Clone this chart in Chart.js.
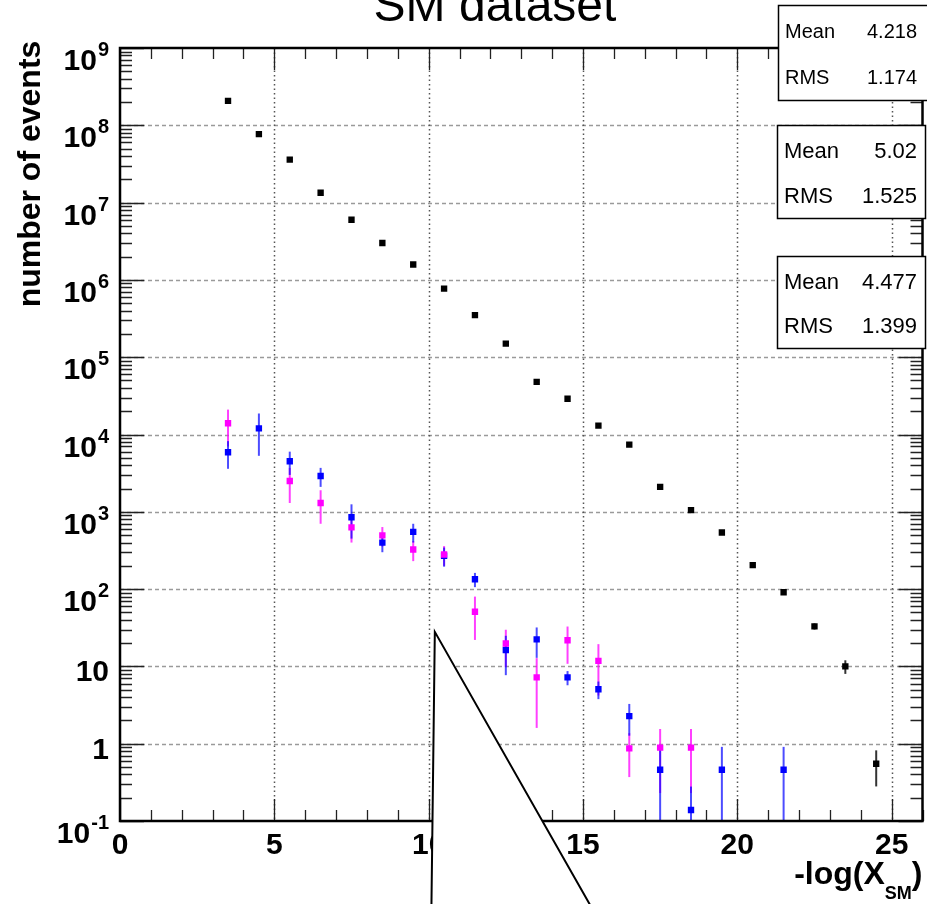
<!DOCTYPE html>
<html>
<head>
<meta charset="utf-8">
<script src="https://cdn.jsdelivr.net/npm/chart.js@4.4.0/dist/chart.umd.min.js"></script>
<style>
html, body { margin: 0; padding: 0; background: #fff; }
</style>
</head>
<body>
<canvas id="sm-chart" width="927" height="904"></canvas>
<script>
// bin centres of -log(X_SM)
const bins = [3.5, 4.5, 5.5, 6.5, 7.5, 8.5, 9.5, 10.5, 11.5, 12.5, 13.5,
  14.5, 15.5, 16.5, 17.5, 18.5, 19.5, 20.5, 21.5, 22.5, 23.5, 24.5];

// black series (full SM sample)
const smVals = [2.07e8, 7.7e7, 3.6e7, 1.34e7, 6e6, 3e6, 1.58e6, 7.7e5, 3.5e5, 1.5e5, 4.8e4,
  2.9e4, 1.3e4, 7.4e3, 2.1e3, 1.05e3, 540, 204, 91, 33, 10, 0.55];
const smErrs = [0, 0, 0, 0, 0, 0, 0, 0, 0, 0, 0,
  0, 0, 0, 0, 0, 0, 0, 5, 3, 2, 0.27];

// magenta series
const magVals = [1.4e4, null, 2.5e3, 1.3e3, 630, 495, 325, 280, 51, 19.8, 7.2,
  21.8, 11.8, 0.87, 0.89, 0.89, null, null, null, null, null, null];
const magErrs = [7e3, null, 1.2e3, 600, 230, 140, 95, 80, 29, 10, 5.6,
  11, 7.6, 0.5, 0.66, 0.66, null, null, null, null, null, null];

// blue series
const blueVals = [5.9e3, 1.2e4, 4.5e3, 2.9e3, 850, 400, 550, 270, 134, 16.3, 22.4,
  7.2, 5.07, 2.27, 0.46, 0.139, 0.46, null, 0.46, null, null, null];
const blueErrs = [2.3e3, 6.7e3, 1.5e3, 800, 400, 100, 150, 75, 28, 8.6, 9.5,
  1.5, 1.3, 1.0, 0.45, 0.14, 0.45, null, 0.45, null, null, null];

// axis ranges and labels
const xMin = 0, xMax = 26;
const xLabels = [0, 5, 10, 15, 20, 25];
const yExpMin = -1, yExpMax = 9;

// stat boxes
const statMeans = ['4.218', '5.02', '4.477'];
const statRms = ['1.174', '1.525', '1.399'];

const FONT = "'Liberation Sans', Arial, Helvetica, sans-serif";

function toPoints(vals, errs) {
  const pts = [];
  vals.forEach((v, i) => {
    if (v !== null) pts.push({ x: bins[i], y: v, err: errs[i] || 0 });
  });
  return pts;
}

const rootStyle = {
  id: 'rootStyle',
  beforeDatasetsDraw(chart) {
    const { ctx, chartArea: a, scales: { x, y } } = chart;
    ctx.save();
    // horizontal grid at decades
    ctx.strokeStyle = '#9a9a9a';
    ctx.lineWidth = 1.5;
    ctx.setLineDash([4, 3]);
    for (let p = yExpMin + 1; p < yExpMax; p++) {
      const py = Math.round(y.getPixelForValue(Math.pow(10, p))) + 0.5;
      ctx.beginPath();
      ctx.moveTo(a.left, py);
      ctx.lineTo(a.right, py);
      ctx.stroke();
    }
    // vertical grid at labelled x values
    ctx.strokeStyle = '#555';
    ctx.setLineDash([1.5, 3]);
    xLabels.forEach(v => {
      if (v <= xMin || v >= xMax) return;
      const px = Math.round(x.getPixelForValue(v)) + 0.5;
      ctx.beginPath();
      ctx.moveTo(px, a.top);
      ctx.lineTo(px, a.bottom);
      ctx.stroke();
    });
    // error bars
    ctx.setLineDash([]);
    chart.data.datasets.forEach((ds, di) => {
      const meta = chart.getDatasetMeta(di);
      ctx.strokeStyle = ds.errColor;
      ctx.lineWidth = 2;
      ds.data.forEach((pt, i) => {
        if (!pt.err) return;
        const px = meta.data[i].x;
        const lo = Math.max(pt.y - pt.err, y.min);
        const hi = Math.min(pt.y + pt.err, y.max);
        ctx.beginPath();
        ctx.moveTo(px, y.getPixelForValue(lo));
        ctx.lineTo(px, y.getPixelForValue(hi));
        ctx.stroke();
      });
    });
    ctx.restore();
  },
  afterDraw(chart) {
    const { ctx, chartArea: a, scales: { x, y } } = chart;
    ctx.save();
    ctx.setLineDash([]);

    // tick marks, ROOT style (inside the frame, on all four sides)
    ctx.strokeStyle = '#222';
    ctx.lineWidth = 1.3;
    for (let p = yExpMin; p <= yExpMax; p++) {
      for (let m = 1; m <= 9; m++) {
        const v = m * Math.pow(10, p);
        if (p === yExpMax && m > 1) break;
        const py = Math.round(y.getPixelForValue(v)) + 0.5;
        const len = m === 1 ? 24 : 12;
        ctx.beginPath();
        ctx.moveTo(a.left, py); ctx.lineTo(a.left + len, py);
        ctx.moveTo(a.right, py); ctx.lineTo(a.right - len, py);
        ctx.stroke();
      }
    }
    for (let v = xMin; v <= xMax; v++) {
      const px = Math.round(x.getPixelForValue(v)) + 0.5;
      const len = v % 5 === 0 ? 22 : 11;
      ctx.beginPath();
      ctx.moveTo(px, a.bottom); ctx.lineTo(px, a.bottom - len);
      ctx.moveTo(px, a.top); ctx.lineTo(px, a.top + len);
      ctx.stroke();
    }

    // frame
    ctx.strokeStyle = '#000';
    ctx.lineWidth = 2.5;
    ctx.strokeRect(a.left, a.top, a.right - a.left, a.bottom - a.top);

    // y tick labels with superscript exponents
    ctx.fillStyle = '#000';
    ctx.textBaseline = 'alphabetic';
    for (let p = yExpMin; p <= yExpMax; p++) {
      const py = y.getPixelForValue(Math.pow(10, p));
      const rightX = a.left - 11;
      if (p === 0 || p === 1) {
        ctx.font = 'bold 30px ' + FONT;
        ctx.textAlign = 'right';
        ctx.fillText(p === 0 ? '1' : '10', rightX, py + 15);
      } else {
        ctx.font = 'bold 20px ' + FONT;
        const e = String(p);
        const ew = ctx.measureText(e).width;
        ctx.font = 'bold 30px ' + FONT;
        const bw = ctx.measureText('10').width;
        ctx.textAlign = 'left';
        const bx = rightX - ew - bw - 1;
        ctx.fillText('10', bx, py + 22);
        ctx.font = 'bold 20px ' + FONT;
        ctx.fillText(e, bx + bw + 1, py + 8);
      }
    }

    // x tick labels
    ctx.font = 'bold 30px ' + FONT;
    ctx.textAlign = 'center';
    xLabels.forEach(v => {
      ctx.fillText(String(v), x.getPixelForValue(v), a.bottom + 33);
    });

    // x title: -log(X_SM)
    ctx.textAlign = 'left';
    ctx.font = 'bold 32px ' + FONT;
    const t1 = '-log(X', t3 = ')';
    const w1 = ctx.measureText(t1).width, w3 = ctx.measureText(t3).width;
    ctx.font = 'bold 18px ' + FONT;
    const w2 = ctx.measureText('SM').width;
    const endX = a.right;
    const sx = endX - w1 - w2 - w3;
    ctx.font = 'bold 32px ' + FONT;
    ctx.fillText(t1, sx, 884);
    ctx.fillText(t3, sx + w1 + w2, 884);
    ctx.font = 'bold 18px ' + FONT;
    ctx.fillText('SM', sx + w1, 899);

    // y title
    ctx.save();
    ctx.translate(40, 174);
    ctx.rotate(-Math.PI / 2);
    ctx.font = 'bold 32px ' + FONT;
    ctx.textAlign = 'center';
    ctx.fillText('number of events', 0, 0);
    ctx.restore();

    // main title (cut off at the top)
    ctx.font = '48px ' + FONT;
    ctx.textAlign = 'center';
    ctx.fillText('SM dataset', 495, 21);

    // stat boxes
    const boxes = [
      { l: 778, t: 5, b: 100, r: 929, size: 20 },
      { l: 777, t: 125, b: 218, r: 925, size: 22 },
      { l: 777, t: 256, b: 348, r: 925, size: 22 }
    ];
    boxes.forEach((bx, i) => {
      ctx.fillStyle = '#fff';
      ctx.fillRect(bx.l, bx.t, bx.r - bx.l, bx.b - bx.t);
      ctx.strokeStyle = '#000';
      ctx.lineWidth = 1.5;
      ctx.strokeRect(bx.l + 0.5, bx.t + 0.5, bx.r - bx.l, bx.b - bx.t);
      ctx.fillStyle = '#000';
      ctx.font = bx.size + 'px ' + FONT;
      ctx.textBaseline = 'middle';
      const h = bx.b - bx.t;
      ctx.textAlign = 'left';
      ctx.fillText('Mean', bx.l + 7, bx.t + h * 0.29);
      ctx.fillText('RMS', bx.l + 7, bx.t + h * 0.77);
      ctx.textAlign = 'right';
      ctx.fillText(statMeans[i], 917, bx.t + h * 0.29);
      ctx.fillText(statRms[i], 917, bx.t + h * 0.77);
    });
    ctx.textBaseline = 'alphabetic';

    // callout triangle overlaying the lower part of the plot
    const apex = { x: x.getPixelForValue(10.2), y: y.getPixelForValue(28) };
    const h = chart.height;
    ctx.beginPath();
    ctx.moveTo(apex.x, apex.y);
    ctx.lineTo(x.getPixelForValue(10.09), h + 2);
    ctx.lineTo(x.getPixelForValue(15.25), h + 2);
    ctx.closePath();
    ctx.fillStyle = '#fff';
    ctx.fill();
    ctx.strokeStyle = '#000';
    ctx.lineWidth = 2;
    ctx.stroke();

    ctx.restore();
  }
};

const chart = new Chart(document.getElementById('sm-chart'), {
  type: 'scatter',
  data: {
    datasets: [
      { label: 'SM', data: toPoints(smVals, smErrs), backgroundColor: '#000', errColor: 'rgba(0,0,0,0.8)' },
      { label: 'magenta', data: toPoints(magVals, magErrs), backgroundColor: '#ff00ff', errColor: 'rgba(255,0,255,0.75)' },
      { label: 'blue', data: toPoints(blueVals, blueErrs), backgroundColor: '#0000ff', errColor: 'rgba(0,0,255,0.7)' }
    ]
  },
  options: {
    responsive: false,
    devicePixelRatio: 1,
    animation: false,
    layout: { padding: { left: 120, right: 3, top: 48, bottom: 83 } },
    elements: {
      point: { pointStyle: 'rect', radius: 4.5, borderWidth: 0, hoverRadius: 4.5 }
    },
    scales: {
      x: { type: 'linear', min: xMin, max: xMax, display: false },
      y: { type: 'logarithmic', min: Math.pow(10, yExpMin), max: Math.pow(10, yExpMax), display: false }
    },
    plugins: { legend: { display: false }, tooltip: { enabled: false } }
  },
  plugins: [rootStyle]
});
</script>
</body>
</html>
